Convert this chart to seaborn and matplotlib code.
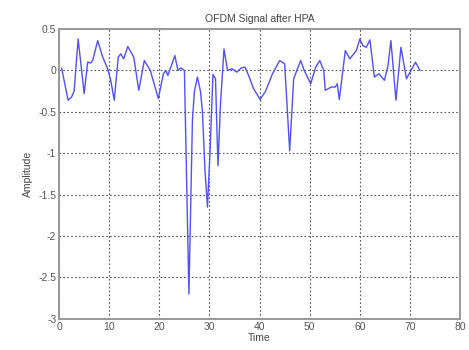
import seaborn as sns
import matplotlib
matplotlib.use("Agg")
import matplotlib.pyplot as plt
import pandas as pd

# signal samples
time = [0.5, 1.8, 2.5, 3.0, 3.8, 5.0, 5.7, 6.3, 6.7, 7.7, 8.7, 9.7, 10.3, 11.0,
        11.8, 12.3, 12.9, 13.7, 14.9, 15.9, 17.0, 18.2, 19.8, 20.8, 21.3, 21.7,
        23.1, 23.7, 24.3, 25.0, 25.9, 26.6, 27.0, 27.6, 28.2, 28.6, 29.1, 29.6,
        30.1, 30.7, 31.2, 31.7, 32.2, 32.9, 33.6, 34.5, 35.5, 36.3, 37.1, 37.8,
        38.8, 40.1, 41.2, 42.5, 44.0, 45.0, 46.0, 46.8, 48.2, 48.9, 50.2, 51.2,
        52.0, 52.8, 53.1, 54.3, 55.1, 55.5, 55.9, 57.1, 58.0, 59.3, 60.0, 60.6,
        61.3, 62.0, 62.9, 63.8, 64.9, 65.6, 66.2, 67.2, 68.2, 69.3, 70.2, 71.1,
        72.0]
amplitude = [0.03, -0.36, -0.32, -0.25, 0.38, -0.28, 0.1, 0.09, 0.12, 0.36, 0.16,
             0.02, -0.12, -0.36, 0.16, 0.2, 0.14, 0.29, 0.16, -0.24, 0.12, 0.0,
             -0.34, -0.04, 0.0, -0.06, 0.18, 0.0, 0.03, 0.0, -2.7, -0.6, -0.25,
             -0.08, -0.25, -0.5, -1.2, -1.65, -1.0, -0.05, -0.1, -1.15, -0.4,
             0.26, 0.0, 0.02, -0.02, 0.03, 0.04, -0.06, -0.22, -0.35, -0.25,
             -0.05, 0.12, 0.08, -0.97, -0.1, 0.12, 0.0, -0.16, 0.04, 0.12, 0.0,
             -0.24, -0.2, -0.2, -0.16, -0.35, 0.24, 0.14, 0.24, 0.38, 0.3, 0.28,
             0.37, -0.08, -0.04, -0.12, 0.05, 0.36, -0.36, 0.28, -0.1, 0.0, 0.1,
             0.0]

xticks = [0, 10, 20, 30, 40, 50, 60, 70, 80]
yticks = [0.5, 0, -0.5, -1, -1.5, -2, -2.5, -3]
ytick_labels = ['0.5', '0', '-0.5', '-1', '-1.5', '-2', '-2.5', '-3']

df = pd.DataFrame({'Time': time, 'Amplitude': amplitude})

sns.set_style("white")
plt.rcParams['font.family'] = ['Liberation Sans', 'DejaVu Sans']
plt.rcParams['axes.unicode_minus'] = False

fig = plt.figure(figsize=(4.69, 3.5), dpi=100)
ax = fig.add_axes([0.126, 0.089, 0.855, 0.828])

sns.lineplot(data=df, x='Time', y='Amplitude', ax=ax, color='#5050ff', linewidth=1.0)

ax.set_xlim(0, 80)
ax.set_ylim(-3, 0.5)
ax.set_xticks(xticks)
ax.set_xticklabels([str(v) for v in xticks])
ax.set_yticks(yticks)
ax.set_yticklabels(ytick_labels)
ax.grid(True, linestyle=(0, (1.5, 2)), color='#555555', linewidth=0.8)
ax.tick_params(direction='in', length=3, labelsize=7.5, colors='#555555', pad=2)
for s in ax.spines.values():
    s.set_color('#999999')
    s.set_linewidth(1.4)

ax.set_title('OFDM Signal after HPA', fontsize=7.5, color='#444444', pad=5)
ax.set_xlabel('Time', fontsize=7.5, color='#444444', labelpad=1)
ax.set_ylabel('Amplitude', fontsize=7.5, color='#444444', labelpad=4)

fig.savefig('out.png', dpi=100)
